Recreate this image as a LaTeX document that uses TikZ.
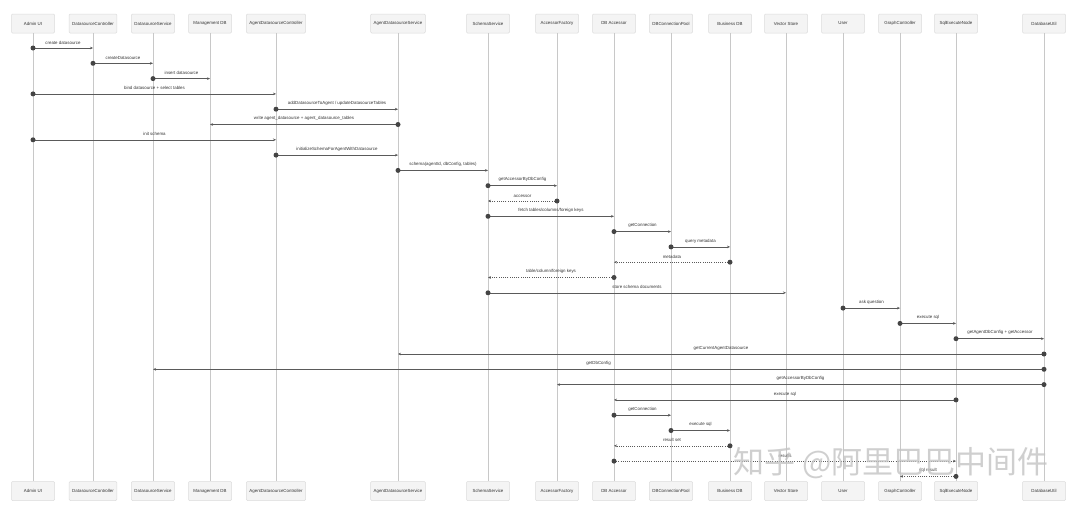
\documentclass[tikz,border=0pt]{standalone}
\usepackage{fontspec}
\setmainfont{Liberation Sans}
\newfontfamily\cjk{Noto Sans CJK SC}
\usetikzlibrary{arrows.meta}
\definecolor{boxfill}{HTML}{F4F4F4}
\definecolor{boxline}{HTML}{DCDCDC}
\definecolor{lifec}{HTML}{C8C8C8}
\definecolor{msgc}{HTML}{5A5A5A}
\definecolor{dotc}{HTML}{444444}
\definecolor{txtc}{HTML}{333333}
\definecolor{wmark}{HTML}{C4C4C4}
% #1 style, #2 index, #3 from, #4 to, #5 label
\newcommand{\seqmsg}[5]{%
  \coordinate (m#2s) at (#3 |- 0,{48+(#2-1)*15.3});
  \coordinate (m#2e) at (#4 |- 0,{48+(#2-1)*15.3});
  \draw[#1] (m#2s) -- (m#2e) node[midway,above=3.6pt,lbl]{#5};
  \fill[dotc] (m#2s) circle (2.5);
}
\begin{document}
\begin{tikzpicture}[x=1pt,y=-1pt,
  pbox/.style={draw=boxline,fill=boxfill,line width=0.5pt,rounded corners=1pt,
    minimum height=19pt,minimum width=43pt,inner xsep=3pt,
    font=\fontsize{4.4}{5}\selectfont,text=txtc},
  lifeline/.style={draw=lifec,line width=0.7pt},
  lbl/.style={font=\fontsize{4.4}{5}\selectfont,text=txtc,inner sep=0pt},
  solidmsg/.style={draw=msgc,line width=0.55pt,-{Stealth[length=3pt,width=2.6pt]}},
  dashmsg/.style={solidmsg,line width=0.45pt,dash pattern=on 1pt off 1.2pt}]
\fill[white] (0,0) rectangle (1080,509);
\useasboundingbox (0,0) rectangle (1080,509);
\foreach \n/\x/\t in {admin/33/Admin UI, dc/93/DatasourceController, ds/153/DatasourceService,
  mdb/210/Management DB, adc/276/AgentDatasourceController, ads/398/AgentDatasourceService,
  ss/488/SchemaService, af/557/AccessorFactory, dba/614/DB Accessor, dbcp/671/DBConnectionPool,
  bdb/730/Business DB, vs/786/Vector Store, user/843/User, gc/900/GraphController,
  sen/956/SqlExecuteNode, dbu/1044/DatabaseUtil}{
  \node[pbox] (\n) at (\x,23.5) {\t};
  \node[pbox] (\n-b) at (\x,491) {\t};
  \draw[lifeline] (\n.south) -- (\n-b.north);
}
\seqmsg{solidmsg}{1}{admin}{dc}{create datasource}
\seqmsg{solidmsg}{2}{dc}{ds}{createDatasource}
\seqmsg{solidmsg}{3}{ds}{mdb}{insert datasource}
\seqmsg{solidmsg}{4}{admin}{adc}{bind datasource + select tables}
\seqmsg{solidmsg}{5}{adc}{ads}{addDatasourceToAgent / updateDatasourceTables}
\seqmsg{solidmsg}{6}{ads}{mdb}{write agent\_datasource + agent\_datasource\_tables}
\seqmsg{solidmsg}{7}{admin}{adc}{init schema}
\seqmsg{solidmsg}{8}{adc}{ads}{initializeSchemaForAgentWithDatasource}
\seqmsg{solidmsg}{9}{ads}{ss}{schema(agentId, dbConfig, tables)}
\seqmsg{solidmsg}{10}{ss}{af}{getAccessorByDbConfig}
\seqmsg{dashmsg}{11}{af}{ss}{accessor}
\seqmsg{solidmsg}{12}{ss}{dba}{fetch tables/columns/foreign keys}
\seqmsg{solidmsg}{13}{dba}{dbcp}{getConnection}
\seqmsg{solidmsg}{14}{dbcp}{bdb}{query metadata}
\seqmsg{dashmsg}{15}{bdb}{dba}{metadata}
\seqmsg{dashmsg}{16}{dba}{ss}{table/column/foreign keys}
\seqmsg{solidmsg}{17}{ss}{vs}{store schema documents}
\seqmsg{solidmsg}{18}{user}{gc}{ask question}
\seqmsg{solidmsg}{19}{gc}{sen}{execute sql}
\seqmsg{solidmsg}{20}{sen}{dbu}{getAgentDbConfig + getAccessor}
\seqmsg{solidmsg}{21}{dbu}{ads}{getCurrentAgentDatasource}
\seqmsg{solidmsg}{22}{dbu}{ds}{getDbConfig}
\seqmsg{solidmsg}{23}{dbu}{af}{getAccessorByDbConfig}
\seqmsg{solidmsg}{24}{sen}{dba}{execute sql}
\seqmsg{solidmsg}{25}{dba}{dbcp}{getConnection}
\seqmsg{solidmsg}{26}{dbcp}{bdb}{execute sql}
\seqmsg{dashmsg}{27}{bdb}{dba}{result set}
\seqmsg{dashmsg}{28}{dba}{sen}{results}
\seqmsg{dashmsg}{29}{sen}{gc}{sql result}
\node[font=\cjk\fontsize{31}{34}\selectfont,text=wmark,opacity=0.8,inner sep=0pt] (wm) at (891,463) {知乎 @阿里巴巴中间件};
\end{tikzpicture}
\end{document}
